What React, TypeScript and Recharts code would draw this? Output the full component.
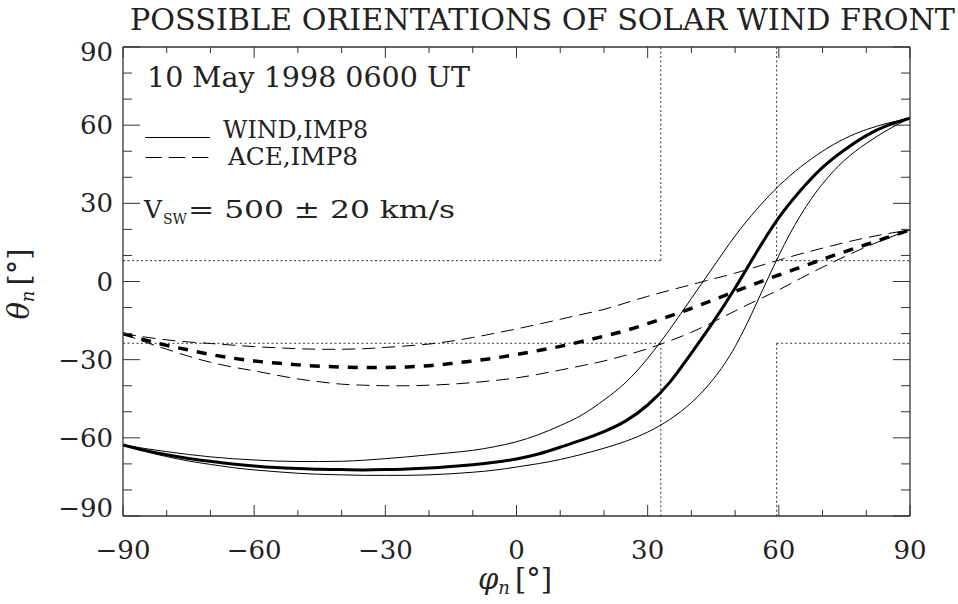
import { LineChart, Line, XAxis, YAxis, ReferenceLine } from 'recharts'

// azimuth of the front normal, degrees (every 5)
const phi = [
  -90, -85, -80, -75, -70, -65, -60, -55, -50, -45, -40, -35, -30, -25, -20,
  -15, -10, -5, 0, 5, 10, 15, 20, 25, 30, 35, 40, 45, 50, 55, 60, 65, 70, 75,
  80, 85, 90,
]

// WIND,IMP8 (solid): best fit and the +/- 20 km/s bounds
const windMid = [
  -62.7, -64.8, -66.5, -67.9, -69, -70, -70.8, -71.4, -71.8, -72.1, -72.2,
  -72.3, -72.2, -72, -71.6, -71, -70.3, -69.4, -68.1, -66.2, -63.6, -60.8,
  -57.6, -53.5, -47.4, -38.8, -27.5, -15.5, -2.5, 11.5, 24.5, 35, 43.8, 50.5,
  56, 60, 62.7,
]
const windUpper = [
  -62.7, -64.1, -65.3, -66.4, -67.3, -68, -68.5, -68.9, -69.1, -69.1, -69,
  -68.6, -68, -67.3, -66.5, -65.7, -64.8, -63.4, -61.5, -58.8, -55.3, -51.2,
  -45.5, -38.7, -29.5, -18.5, -6.5, 5.6, 17.5, 27.8, 36.7, 44, 50, 54.8, 58.3,
  60.8, 62.7,
]
const windLower = [
  -62.7, -65.2, -67.2, -68.9, -70.2, -71.4, -72.3, -73, -73.6, -74, -74.2,
  -74.4, -74.4, -74.4, -74.2, -73.8, -73.2, -72.4, -71.2, -69.9, -68.3, -66.3,
  -64, -61.3, -57.8, -53, -46.5, -37.5, -25, -8, 10, 25.5, 37.5, 46.5, 53,
  58.3, 62.7,
]

// ACE,IMP8 (dashed)
const aceMid = [
  -20, -22.4, -24.5, -26.3, -28, -29.4, -30.5, -31.3, -32, -32.5, -32.8, -33,
  -33, -32.8, -32.3, -31.5, -30.5, -29.4, -28, -26.5, -24.9, -23, -21, -18.8,
  -16.2, -13.3, -10.3, -7.1, -3.8, -0.6, 2.5, 5.5, 8.5, 11.4, 14.2, 17, 19.8,
]
const aceUpper = [
  -20, -21.3, -22.4, -23.2, -23.8, -24.4, -25, -25.4, -25.8, -26, -26, -25.8,
  -25.3, -24.7, -24, -22.9, -21.5, -19.9, -18.2, -16.4, -14.5, -12.6, -10.7,
  -8.2, -5.7, -3.4, -1.2, 1, 3.2, 5.7, 8.2, 10.6, 12.8, 14.9, 16.8, 18.4, 19.8,
]
const aceLower = [
  -20, -23.2, -26, -28.7, -31, -32.8, -34.3, -35.9, -37.4, -38.5, -39.4, -39.8,
  -40, -40, -39.8, -39.4, -38.8, -38, -37, -35.6, -34, -32.3, -30.5, -28.3,
  -25.8, -22.8, -19.5, -15.5, -11.3, -7.2, -3.2, 1.2, 5.5, 9.5, 13.3, 16.7,
  19.8,
]

const tickValues = [
  -90, -80, -70, -60, -50, -40, -30, -20, -10, 0, 10, 20, 30, 40, 50, 60, 70,
  80, 90,
]
const majorTicks = [-90, -60, -30, 0, 30, 60, 90]

// edges of the dotted cross (allowed region)
const phiMin = 33
const phiMax = 59.5
const thetaMin = -23.7
const thetaMax = 8

const data = phi.map((p, i) => ({
  phi: p,
  windMid: windMid[i],
  windUpper: windUpper[i],
  windLower: windLower[i],
  aceMid: aceMid[i],
  aceUpper: aceUpper[i],
  aceLower: aceLower[i],
}))

const FONT = 'DejaVu Serif'
const INK = '#222'
const FRAME = '#333'
const tickText = { fontFamily: FONT, fontSize: 26, fill: INK }

const fmt = (v: number) => (v < 0 ? `\u2212${-v}` : `${v}`)

function BottomTick({ x, y, payload }: any) {
  const major = majorTicks.includes(payload.value)
  return (
    <g>
      <line x1={x} x2={x} y1={y} y2={y - (major ? 11 : 6)} stroke={FRAME} />
      {major && (
        <text x={x} y={y + 43} textAnchor='middle' {...tickText}>
          {fmt(payload.value)}
        </text>
      )}
    </g>
  )
}

function TopTick({ x, y, payload }: any) {
  const major = majorTicks.includes(payload.value)
  return <line x1={x} x2={x} y1={y} y2={y + (major ? 11 : 6)} stroke={FRAME} />
}

function LeftTick({ x, y, payload }: any) {
  const v = payload.value
  const major = majorTicks.includes(v)
  const dy = v === 90 ? 5 : v === -90 ? -8 : 0
  return (
    <g>
      <line x1={x} x2={x + (major ? 17 : 9)} y1={y} y2={y} stroke={FRAME} />
      {major && (
        <text
          x={x - 10}
          y={y + dy}
          textAnchor='end'
          dominantBaseline='central'
          {...tickText}
        >
          {fmt(v)}
        </text>
      )}
    </g>
  )
}

function RightTick({ x, y, payload }: any) {
  const major = majorTicks.includes(payload.value)
  return <line x1={x} x2={x - (major ? 17 : 9)} y1={y} y2={y} stroke={FRAME} />
}

const dotted = { stroke: '#333', strokeWidth: 1, strokeDasharray: '2 2.5' }
const frameLine = { stroke: FRAME, strokeWidth: 1.3 }

export default function App() {
  return (
    <div style={{ position: 'absolute', left: 0, top: 0, width: 958, height: 604, background: '#fff' }}>
      <LineChart
        width={958}
        height={604}
        data={data}
        margin={{ top: 46, right: 47, bottom: 87, left: 122 }}
      >
        <XAxis
          dataKey='phi'
          type='number'
          domain={[-90, 90]}
          allowDataOverflow
          ticks={tickValues}
          interval={0}
          height={1}
          tickSize={0}
          tickMargin={0}
          tickLine={false}
          tick={BottomTick}
          axisLine={frameLine}
        />
        <XAxis
          xAxisId='top'
          orientation='top'
          dataKey='phi'
          type='number'
          domain={[-90, 90]}
          allowDataOverflow
          ticks={tickValues}
          interval={0}
          height={1}
          tickSize={0}
          tickMargin={0}
          tickLine={false}
          tick={TopTick}
          axisLine={frameLine}
        />
        <YAxis
          type='number'
          domain={[-90, 90]}
          allowDataOverflow
          ticks={tickValues}
          interval={0}
          width={1}
          tickSize={0}
          tickMargin={0}
          tickLine={false}
          tick={LeftTick}
          axisLine={frameLine}
        />
        <YAxis
          yAxisId='right'
          orientation='right'
          type='number'
          domain={[-90, 90]}
          allowDataOverflow
          ticks={tickValues}
          interval={0}
          width={1}
          tickSize={0}
          tickMargin={0}
          tickLine={false}
          tick={RightTick}
          axisLine={frameLine}
        />

        <ReferenceLine segment={[{ x: phiMin, y: 90 }, { x: phiMin, y: thetaMax }]} {...dotted} />
        <ReferenceLine segment={[{ x: -90, y: thetaMax }, { x: phiMin, y: thetaMax }]} {...dotted} />
        <ReferenceLine segment={[{ x: phiMax, y: 90 }, { x: phiMax, y: thetaMax }]} {...dotted} />
        <ReferenceLine segment={[{ x: phiMax, y: thetaMax }, { x: 90, y: thetaMax }]} {...dotted} />
        <ReferenceLine segment={[{ x: phiMin, y: thetaMin }, { x: phiMin, y: -90 }]} {...dotted} />
        <ReferenceLine segment={[{ x: -90, y: thetaMin }, { x: phiMin, y: thetaMin }]} {...dotted} />
        <ReferenceLine segment={[{ x: phiMax, y: thetaMin }, { x: phiMax, y: -90 }]} {...dotted} />
        <ReferenceLine segment={[{ x: phiMax, y: thetaMin }, { x: 90, y: thetaMin }]} {...dotted} />

        <Line type='natural' dataKey='windUpper' stroke='#000' strokeWidth={1} dot={false} isAnimationActive={false} />
        <Line type='natural' dataKey='windLower' stroke='#000' strokeWidth={1} dot={false} isAnimationActive={false} />
        <Line type='natural' dataKey='windMid' stroke='#000' strokeWidth={3} dot={false} isAnimationActive={false} />
        <Line type='natural' dataKey='aceUpper' stroke='#000' strokeWidth={1} strokeDasharray='13 7' dot={false} isAnimationActive={false} />
        <Line type='natural' dataKey='aceLower' stroke='#000' strokeWidth={1} strokeDasharray='13 7' dot={false} isAnimationActive={false} />
        <Line type='natural' dataKey='aceMid' stroke='#000' strokeWidth={3.5} strokeDasharray='10 9' dot={false} isAnimationActive={false} />
      </LineChart>

      <svg
        width={958}
        height={604}
        style={{ position: 'absolute', left: 0, top: 0, pointerEvents: 'none' }}
      >
        <g fontFamily={FONT} fill={INK}>
          <text x={130} y={30} fontSize={30} textLength={825} lengthAdjust='spacingAndGlyphs'>
            POSSIBLE ORIENTATIONS OF SOLAR WIND FRONT
          </text>
          <text x={147} y={87} fontSize={27} textLength={323} lengthAdjust='spacingAndGlyphs'>
            10 May 1998 0600 UT
          </text>

          <line x1={145} x2={210} y1={137.5} y2={137.5} stroke='#000' strokeWidth={1} />
          <text x={223} y={138} fontSize={25} textLength={145} lengthAdjust='spacingAndGlyphs'>
            WIND,IMP8
          </text>
          <line x1={145.5} x2={208.5} y1={157.5} y2={157.5} stroke='#000' strokeWidth={1} strokeDasharray='16.3 7' />
          <text x={228} y={165} fontSize={25} textLength={130} lengthAdjust='spacingAndGlyphs'>
            ACE,IMP8
          </text>

          <text x={144} y={218} fontSize={25}>V</text>
          <text x={163} y={224} fontSize={15} textLength={24} lengthAdjust='spacingAndGlyphs'>SW</text>
          <text x={188} y={218} fontSize={25} textLength={267} lengthAdjust='spacingAndGlyphs'>
            = 500 ± 20 km/s
          </text>

          <text x={478} y={589} fontSize={29}>
            <tspan fontStyle='italic'>φ</tspan>
            <tspan fontStyle='italic' fontSize={18} dy={5}>n</tspan>
            <tspan dy={-5} dx={5}>[°]</tspan>
          </text>
          <text
            x={0}
            y={0}
            fontSize={29}
            textAnchor='middle'
            transform='translate(29 284) rotate(-90)'
          >
            <tspan fontStyle='italic'>θ</tspan>
            <tspan fontStyle='italic' fontSize={18} dy={5}>n</tspan>
            <tspan dy={-5} dx={5}>[°]</tspan>
          </text>
        </g>
      </svg>
    </div>
  )
}
